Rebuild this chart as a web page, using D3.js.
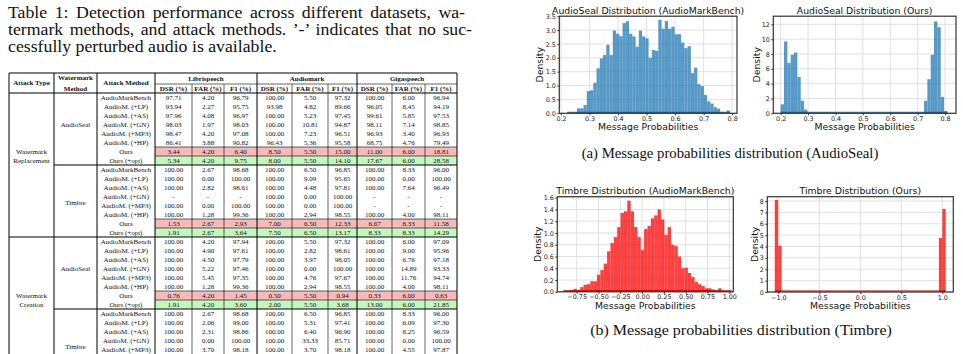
<!DOCTYPE html>
<html>
<head>
<meta charset="utf-8">
<script src="https://cdn.jsdelivr.net/npm/d3@7"></script>
<style>
  body { margin: 0; background: #fff; }
  svg { display: block; }
</style>
</head>
<body>
<svg width="963" height="354"></svg>
<script>
// ---------- table data ----------
const captionLines = [
  "Table 1: Detection performance across different datasets, wa-",
  "termark methods, and attack methods. \u2019-\u2019 indicates that no suc-",
  "cessfully perturbed audio is available."
];
const datasets = ["Librispeech", "Audiomark", "Gigaspeech"];
const metrics = ["DSR (%)", "FAR (%)", "F1 (%)"];
const attackTypes = [["Watermark", "Replacement"], ["Watermark", "Creation"]];
const wmMethods = ["AudioSeal", "Timbre"];
const attackMethods = ["AudioMarkBench", "AudioM. (+LP)", "AudioM. (+AS)", "AudioM. (+GN)",
  "AudioM. (+MP3)", "AudioM. (+HP)", "Ours", "Ours (+opt)"];

const replAudioSeal = [
  ["97.71", "4.20", "96.79", "100.00", "5.50", "97.32", "100.00", "6.00", "96.94"],
  ["93.94", "2.27", "95.75", "93.98", "4.82", "89.66", "96.05", "8.45", "94.19"],
  ["97.96", "4.08", "96.97", "100.00", "5.23", "97.45", "99.61", "5.85", "97.53"],
  ["98.03", "1.97", "98.03", "100.00", "10.81", "94.87", "98.11", "7.14", "98.85"],
  ["98.47", "4.20", "97.08", "100.00", "7.23", "96.51", "96.93", "3.40", "96.93"],
  ["86.41", "3.88", "90.82", "96.43", "5.36", "95.58", "68.75", "4.76", "79.49"],
  ["3.44", "4.20", "6.40", "8.50", "5.50", "15.00", "11.00", "6.00", "18.81"],
  ["5.34", "4.20", "9.75", "8.00", "5.50", "14.10", "17.67", "6.00", "28.58"]
];
const replTimbre = [
  ["100.00", "2.67", "98.68", "100.00", "6.50", "96.85", "100.00", "8.33", "96.00"],
  ["100.00", "0.00", "100.00", "100.00", "9.09", "95.65", "100.00", "0.00", "100.00"],
  ["100.00", "2.82", "98.61", "100.00", "4.48", "97.81", "100.00", "7.64", "96.49"],
  ["-", "-", "-", "100.00", "0.00", "100.00", "-", "-", "-"],
  ["100.00", "0.00", "100.00", "100.00", "0.00", "100.00", "-", "-", "-"],
  ["100.00", "1.28", "99.36", "100.00", "2.94", "98.55", "100.00", "4.00", "98.11"],
  ["1.53", "2.67", "2.93", "7.00", "6.50", "12.33", "6.67", "8.33", "11.58"],
  ["1.91", "2.67", "3.64", "7.50", "6.50", "13.17", "8.33", "8.33", "14.29"]
];
const creaAudioSeal = [
  ["100.00", "4.20", "97.94", "100.00", "5.50", "97.32", "100.00", "6.00", "97.09"],
  ["100.00", "4.90", "97.61", "100.00", "2.82", "98.61", "100.00", "9.00", "95.96"],
  ["100.00", "4.50", "97.79", "100.00", "3.97", "98.05", "100.00", "6.76", "97.18"],
  ["100.00", "5.22", "97.46", "100.00", "0.00", "100.00", "100.00", "14.89", "93.33"],
  ["100.00", "5.45", "97.35", "100.00", "4.76", "97.67", "100.00", "11.76", "94.74"],
  ["100.00", "1.28", "99.36", "100.00", "2.94", "98.55", "100.00", "4.00", "98.11"],
  ["0.76", "4.20", "1.45", "0.50", "5.50", "0.94", "0.33", "6.00", "0.63"],
  ["1.91", "4.20", "3.60", "2.00", "5.50", "3.68", "13.00", "6.00", "21.85"]
];
const creaTimbre = [
  ["100.00", "2.67", "98.68", "100.00", "6.50", "96.85", "100.00", "8.33", "96.00"],
  ["100.00", "2.06", "99.00", "100.00", "5.31", "97.41", "100.00", "6.09", "97.30"],
  ["100.00", "2.31", "98.86", "100.00", "6.40", "96.90", "100.00", "8.25", "96.59"],
  ["100.00", "0.00", "100.00", "100.00", "33.33", "85.71", "100.00", "0.00", "100.00"],
  ["100.00", "3.70", "98.18", "100.00", "3.70", "98.18", "100.00", "4.55", "97.87"]
];

// ---------- histogram data (density per bin) ----------
const sealBenchStart = 0.222, sealBenchWidth = 0.0114;
const sealBench = [0.02, 0.0, 0.03, 0.18, 0.18, 0.3, 0.8, 0.83, 1.1, 1.62,
  1.98, 2.1, 2.47, 2.1, 2.98, 2.87, 2.78, 3.25, 3.32, 2.87,
  2.77, 2.4, 2.98, 2.77, 2.7, 2.0, 2.28, 2.25, 3.37, 3.05,
  3.33, 3.05, 3.12, 2.85, 2.85, 2.55, 2.35, 2.42, 1.45, 1.65,
  1.05, 0.98, 0.66, 0.43, 0.35, 0.22, 0.17, 0.05, 0.02, 0.1];
const sealOursStart = 0.2, sealOursWidth = 0.01217;
const sealOurs = [1.2, 9.7, 6.8, 7.9, 8.2, 4.9, 1.7, 0.5, 0.1, 0,
  0, 0, 0, 0, 0, 0, 0, 0, 0, 0,
  0, 0, 0, 0, 0, 0, 0, 0, 0, 0,
  0, 0, 0, 0, 0, 0, 0, 0, 0, 0,
  0, 0.05, 0.1, 1.7, 4.6, 7.9, 12.4, 11.6, 2.2, 0.3];
const timbreBenchStart = -0.903, timbreBenchWidth = 0.0386;
const timbreBench = [0.01, 0.01, 0.03, 0.05, 0.03, 0.08, 0.12, 0.13, 0.18, 0.18,
  0.29, 0.37, 0.48, 0.69, 0.83, 0.93, 1.1, 1.34, 1.37, 1.55,
  1.37, 1.1, 0.93, 0.71, 1.07, 1.12, 1.25, 1.3, 1.4, 1.23,
  0.97, 1.1, 0.8, 0.78, 0.6, 0.4, 0.41, 0.32, 0.25, 0.17,
  0.13, 0.1, 0.06, 0.06, 0.04, 0.02, 0.06, 0.01, 0.01, 0.01];
const timbreOursStart = -1.043, timbreOursWidth = 0.0417;
const timbreOurs = [8.1, 4.05, 0, 0, 0, 0, 0, 0, 0, 0,
  0, 0, 0, 0, 0, 0, 0, 0, 0, 0,
  0, 0, 0, 0, 0, 0, 0, 0, 0, 0,
  0, 0, 0, 0, 0, 0, 0, 0, 0, 0,
  0, 0, 0, 0, 0, 0, 0, 0, 4.75, 7.3];

// tick values
const sealXTicks = [0.2, 0.3, 0.4, 0.5, 0.6, 0.7, 0.8];
const sealBenchYTicks = [0, 0.5, 1, 1.5, 2, 2.5, 3, 3.5];
const sealOursYTicks = [0, 2, 4, 6, 8, 10, 12];
const timbreBenchXTicks = [-0.75, -0.5, -0.25, 0, 0.25, 0.5, 0.75, 1];
const timbreBenchYTicks = [0, 0.2, 0.4, 0.6, 0.8, 1, 1.2, 1.4, 1.6];
const timbreOursXTicks = [-1, -0.5, 0, 0.5, 1];
const timbreOursYTicks = [0, 1, 2, 3, 4, 5, 6, 7, 8];

const svg = d3.select("svg");

// ---------- caption ----------
const cap = svg.append("g").style("font-family", "Liberation Serif").style("font-size", "16.6px").attr("fill", "#111");
const capBase = [18, 35, 52];
const capWidth = [457, 464, null];
const sx = 1.07;
captionLines.forEach((s, i) => {
  const g = cap.append("g").attr("transform", `translate(8,${capBase[i]}) scale(${sx},1)`);
  const t = g.append("text").attr("x", 0).attr("y", 0).text(s);
  if (capWidth[i]) {
    const w = t.node().getComputedTextLength();
    const n = s.split(" ").length - 1;
    t.style("word-spacing", ((capWidth[i] / sx - w) / n) + "px");
  }
});

// ---------- table ----------
const colX = [9, 54, 97, 155, 192, 224, 257, 292, 328, 357, 392, 425, 457];
const headTop = 73, headMid = 84, headBot = 93, rowH = 9;
const tbl = svg.append("g").style("font-family", "Liberation Serif").style("font-size", "7px").attr("fill", "#111");

const blocks = [
  { type: 0, wm: 0, vals: replAudioSeal },
  { type: 0, wm: 1, vals: replTimbre },
  { type: 1, wm: 0, vals: creaAudioSeal },
  { type: 1, wm: 1, vals: creaTimbre }
];
const rowTop = (b, r) => headBot + rowH * (b * 8 + r);

// highlighted rows
blocks.forEach((b, bi) => {
  b.vals.forEach((row, r) => {
    if (r >= 6) {
      tbl.append("rect").attr("x", colX[3]).attr("y", rowTop(bi, r))
        .attr("width", colX[12] - colX[3]).attr("height", rowH)
        .attr("fill", r === 6 ? "#f8b9b9" : "#c4f6bf");
    }
  });
});

function hline(y, x1, x2, w) {
  tbl.append("line").attr("x1", x1).attr("x2", x2).attr("y1", y).attr("y2", y)
    .attr("stroke", "#000").attr("stroke-width", w);
}
function vline(x, y1, y2, w) {
  tbl.append("line").attr("x1", x).attr("x2", x).attr("y1", y1).attr("y2", y2)
    .attr("stroke", "#000").attr("stroke-width", w);
}

hline(headTop, colX[0], colX[12], 1);
hline(headMid, colX[3], colX[12], 0.6);
hline(headBot, colX[0], colX[12], 1);
blocks.forEach((b, bi) => {
  if (b.vals.length < 8) return;
  hline(rowTop(bi, 6), colX[3], colX[12], 0.6);
  hline(rowTop(bi, 7), colX[3], colX[12], 0.6);
  hline(rowTop(bi, 8), bi % 2 ? colX[0] : colX[1], colX[12], 1.1);
});
colX.forEach((x, i) => {
  const inner = i > 3 && i < 12 && (i - 3) % 3 !== 0;
  vline(x, inner ? headMid : headTop, 354, inner ? 0.6 : 1);
});

function cell(x, y, s, bold) {
  tbl.append("text").attr("x", x).attr("y", y).attr("dy", "0.35em")
    .attr("text-anchor", "middle").style("font-weight", bold ? "bold" : "normal").text(s);
}
const mid = (a, b) => (a + b) / 2;
const headC1 = mid(headTop, headMid), headC2 = mid(headMid, headBot);
cell(mid(colX[0], colX[1]), mid(headTop, headBot), "Attack Type", true);
cell(mid(colX[1], colX[2]), headC1 - 1, "Watermark", true);
cell(mid(colX[1], colX[2]), headC2, "Method", true);
cell(mid(colX[2], colX[3]), mid(headTop, headBot), "Attack Method", true);
datasets.forEach((d, k) => {
  cell(mid(colX[3 + 3 * k], colX[6 + 3 * k]), headC1, d, true);
  metrics.forEach((m, j) => cell(mid(colX[3 + 3 * k + j], colX[4 + 3 * k + j]), headC2, m, true));
});

blocks.forEach((b, bi) => {
  b.vals.forEach((row, r) => {
    const yc = rowTop(bi, r) + rowH / 2;
    cell(mid(colX[2], colX[3]), yc, attackMethods[r], false);
    row.forEach((v, j) => cell(mid(colX[3 + j], colX[4 + j]), yc, v, false));
  });
  const wr = b.wm === 0 ? 3 : 3.7;
  cell(mid(colX[1], colX[2]), rowTop(bi, wr) + rowH / 2, wmMethods[b.wm], false);
  if (b.wm === 0) {
    attackTypes[b.type].forEach((s, k) =>
      cell(mid(colX[0], colX[1]), rowTop(bi, 6 + k) + rowH / 2, s, false));
  }
});

// ---------- histograms ----------
const panels = [
  { title: "AudioSeal Distribution (AudioMarkBench)", vals: sealBench, start: sealBenchStart, width: sealBenchWidth,
    color: "#1f77b4", edge: "#1d4f7c", xlim: [0.194, 0.817], ylim: [0, 3.5], xticks: sealXTicks, yticks: sealBenchYTicks,
    xfmt: d3.format(".1f"), yfmt: d3.format(".1f"), left: 559.3, right: 737, top: 16.2, bottom: 113.3 },
  { title: "AudioSeal Distribution (Ours)", vals: sealOurs, start: sealOursStart, width: sealOursWidth,
    color: "#1f77b4", edge: "#1d4f7c", xlim: [0.173, 0.840], ylim: [0, 13.1], xticks: sealXTicks, yticks: sealOursYTicks,
    xfmt: d3.format(".1f"), yfmt: d3.format("d"), left: 773.3, right: 956, top: 16.2, bottom: 113.3 },
  { title: "Timbre Distribution (AudioMarkBench)", vals: timbreBench, start: timbreBenchStart, width: timbreBenchWidth,
    color: "#ff0000", edge: "#9a0000", xlim: [-0.972, 1.046], ylim: [0, 1.617], xticks: timbreBenchXTicks, yticks: timbreBenchYTicks,
    xfmt: d3.format(".2f"), yfmt: d3.format(".1f"), left: 557.3, right: 733.3, top: 196.7, bottom: 291.8 },
  { title: "Timbre Distribution (Ours)", vals: timbreOurs, start: timbreOursStart, width: timbreOursWidth,
    color: "#ff0000", edge: "#9a0000", xlim: [-1.134, 1.134], ylim: [0, 8.38], xticks: timbreOursXTicks, yticks: timbreOursYTicks,
    xfmt: d3.format(".1f"), yfmt: d3.format("d"), left: 767.3, right: 953.3, top: 196.7, bottom: 292 }
];

function drawHist(p) {
  const x = d3.scaleLinear().domain(p.xlim).range([p.left, p.right]);
  const y = d3.scaleLinear().domain(p.ylim).range([p.bottom, p.top]);
  const g = svg.append("g").style("font-family", "DejaVu Sans");

  // grid
  g.selectAll(".gx").data(p.xticks).enter().append("line")
    .attr("x1", d => x(d)).attr("x2", d => x(d)).attr("y1", p.top).attr("y2", p.bottom)
    .attr("stroke", "#dedede").attr("stroke-width", 0.9);
  g.selectAll(".gy").data(p.yticks).enter().append("line")
    .attr("x1", p.left).attr("x2", p.right).attr("y1", d => y(d)).attr("y2", d => y(d))
    .attr("stroke", "#dedede").attr("stroke-width", 0.9);

  // bars
  const x0 = i => x(p.start + i * p.width);
  g.selectAll(".bar").data(p.vals).enter().append("rect")
    .attr("x", (d, i) => x0(i))
    .attr("width", (d, i) => x0(i + 1) - x0(i))
    .attr("y", d => y(d))
    .attr("height", d => p.bottom - y(d))
    .attr("fill", p.color).attr("fill-opacity", 0.75);
  g.append("line")
    .attr("x1", x0(0)).attr("x2", x0(p.vals.length))
    .attr("y1", p.bottom - 1).attr("y2", p.bottom - 1)
    .attr("stroke", p.edge).attr("stroke-width", 1);

  // frame
  g.append("rect").attr("x", p.left).attr("y", p.top)
    .attr("width", p.right - p.left).attr("height", p.bottom - p.top)
    .attr("fill", "none").attr("stroke", "#333").attr("stroke-width", 1.2);

  // axes
  const xa = g.append("g").attr("transform", `translate(0,${p.bottom})`)
    .call(d3.axisBottom(x).tickValues(p.xticks).tickFormat(p.xfmt).tickSize(2).tickPadding(1));
  const ya = g.append("g").attr("transform", `translate(${p.left},0)`)
    .call(d3.axisLeft(y).tickValues(p.yticks).tickFormat(p.yfmt).tickSize(2).tickPadding(1.5));
  [xa, ya].forEach(a => {
    a.select(".domain").remove();
    a.selectAll("line").attr("stroke", "#333");
    a.selectAll("text").style("font-family", "DejaVu Sans").style("font-size", "6.4px").attr("fill", "#222");
  });

  // labels
  g.append("text").attr("x", (p.left + p.right) / 2).attr("y", p.top - 2.5)
    .attr("text-anchor", "middle").style("font-size", "9.3px").attr("fill", "#111").text(p.title);
  g.append("text").attr("x", (p.left + p.right) / 2).attr("y", p.bottom + 17)
    .attr("text-anchor", "middle").style("font-size", "9.3px").attr("fill", "#111").text("Message Probabilities");
  const yb = ya.node().getBBox();
  g.append("text")
    .attr("transform", `translate(${p.left + yb.x - 5.4},${(p.top + p.bottom) / 2}) rotate(-90)`)
    .attr("dy", "0.35em").attr("text-anchor", "middle")
    .style("font-size", "9.3px").attr("fill", "#111").text("Density");
}
panels.forEach(drawHist);

// ---------- sub-figure captions ----------
const subCaps = [
  { text: "(a) Message probabilities distribution (AudioSeal)", x: 730, y: 157.5, len: 296.7, size: 13.6 },
  { text: "(b) Message probabilities distribution (Timbre)", x: 741, y: 335, len: 301.7, size: 14.2 }
];
svg.selectAll(".subcap").data(subCaps).enter().append("text")
  .attr("x", d => d.x).attr("y", d => d.y).attr("text-anchor", "middle")
  .attr("textLength", d => d.len).attr("lengthAdjust", "spacingAndGlyphs")
  .style("font-family", "Liberation Serif").style("font-size", d => d.size + "px")
  .attr("fill", "#111").text(d => d.text);
</script>
</body>
</html>
